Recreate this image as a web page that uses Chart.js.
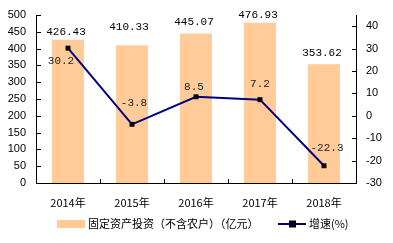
<!DOCTYPE html>
<html><head><meta charset="utf-8">
<script src="https://cdn.jsdelivr.net/npm/chart.js@4/dist/chart.umd.min.js"></script>
<style>html,body{margin:0;padding:0;background:#fff;}#wrap{width:393px;height:243px;position:relative;}</style>
</head><body><div id="wrap"><canvas id="c" width="393" height="243"></canvas></div>
<script>
// ---- data ----
const years = ['2014年', '2015年', '2016年', '2017年', '2018年'];
const investment = [426.43, 410.33, 445.07, 476.93, 353.62];
const growth = [30.2, -3.8, 8.5, 7.2, -22.3];
const investLabels = ['426.43', '410.33', '445.07', '476.93', '353.62'];
const growthLabels = ['30.2', '-3.8', '8.5', '7.2', '-22.3'];
const leftTicks = [0, 50, 100, 150, 200, 250, 300, 350, 400, 450, 500];
const rightTicks = [-30, -20, -10, 0, 10, 20, 30, 40];
const seriesNames = ['固定资产投资（不含农户）（亿元）', '增速(%)'];

// ---- styles ----
const BAR_COLOR = '#FFCC99';
const LINE_COLOR = '#000080';
const LABEL_FONT = '11px "Liberation Mono", monospace';
const CJK_FONT = '11px "Noto Sans CJK SC", sans-serif';
// label offsets (px) relative to bar top / point
const barLabelOffsets = [[-2, -6], [-3, -17], [-2, -10], [-2, -6], [-2, -10]];
const lineLabelOffsets = [[-7, 13], [2, -21], [-2, -10], [0, -16], [3, -18]];

const overlay = {
  id: 'overlay',
  afterDraw(chart) {
    const ctx = chart.ctx;
    const ca = chart.chartArea;
    const y = chart.scales.y, y1 = chart.scales.y1, x = chart.scales.x;
    ctx.save();
    ctx.strokeStyle = '#000';
    ctx.lineWidth = 1;
    // axis lines
    ctx.beginPath();
    ctx.moveTo(Math.round(ca.left) + 0.5, Math.round(ca.top));
    ctx.lineTo(Math.round(ca.left) + 0.5, Math.round(ca.bottom) + 0.5);
    ctx.lineTo(Math.round(ca.right) + 0.5, Math.round(ca.bottom) + 0.5);
    ctx.lineTo(Math.round(ca.right) + 0.5, Math.round(ca.top));
    ctx.stroke();
    // inward tick marks
    ctx.beginPath();
    leftTicks.forEach(v => {
      const py = Math.round(y.getPixelForValue(v)) + 0.5;
      ctx.moveTo(Math.round(ca.left), py); ctx.lineTo(Math.round(ca.left) + 5, py);
    });
    rightTicks.forEach(v => {
      const py = Math.round(y1.getPixelForValue(v)) + 0.5;
      ctx.moveTo(Math.round(ca.right) + 1, py); ctx.lineTo(Math.round(ca.right) - 4, py);
    });
    for (let i = 1; i < years.length; i++) {
      const px = Math.round((x.getPixelForValue(i - 1) + x.getPixelForValue(i)) / 2) + 0.5;
      ctx.moveTo(px, Math.round(ca.bottom)); ctx.lineTo(px, Math.round(ca.bottom) - 4);
    }
    ctx.stroke();

    // bar value labels
    ctx.fillStyle = '#000';
    ctx.font = LABEL_FONT;
    ctx.textAlign = 'center';
    ctx.textBaseline = 'bottom';
    const barMeta = chart.getDatasetMeta(0);
    barMeta.data.forEach((bar, i) => {
      const o = barLabelOffsets[i];
      ctx.fillText(investLabels[i], bar.x + o[0], bar.y + o[1] + 4);
    });
    // line value labels
    ctx.fillStyle = '#222';
    ctx.textBaseline = 'middle';
    const lineMeta = chart.getDatasetMeta(1);
    lineMeta.data.forEach((pt, i) => {
      const o = lineLabelOffsets[i];
      ctx.fillText(growthLabels[i], pt.x + o[0], pt.y + o[1]);
    });

    // legend
    const ly = 224;
    ctx.fillStyle = BAR_COLOR;
    ctx.fillRect(57, 220, 28, 8);
    ctx.fillStyle = '#000';
    ctx.font = CJK_FONT;
    ctx.textAlign = 'left';
    ctx.textBaseline = 'middle';
    ctx.fillText(seriesNames[0], 88, ly);
    ctx.strokeStyle = LINE_COLOR;
    ctx.lineWidth = 2;
    ctx.beginPath(); ctx.moveTo(278, ly); ctx.lineTo(306, ly); ctx.stroke();
    ctx.fillStyle = '#000';
    ctx.fillRect(289, ly - 3.5, 7, 7);
    ctx.fillText(seriesNames[1], 309, ly);
    ctx.restore();
  }
};

new Chart(document.getElementById('c'), {
  type: 'bar',
  data: {
    labels: years,
    datasets: [
      {
        label: seriesNames[0], data: investment, yAxisID: 'y',
        backgroundColor: BAR_COLOR, borderWidth: 0,
        barPercentage: 0.5, categoryPercentage: 1, order: 2
      },
      {
        type: 'line', label: seriesNames[1], data: growth, yAxisID: 'y1',
        borderColor: LINE_COLOR, borderWidth: 2, tension: 0,
        pointStyle: 'rect', pointRadius: 3.5, pointBackgroundColor: '#000',
        pointBorderColor: '#000', pointBorderWidth: 0, order: 1
      }
    ]
  },
  options: {
    responsive: false, animation: false, devicePixelRatio: 1,
    layout: { padding: { top: 15, left: 0, right: 0, bottom: 0 } },
    plugins: { legend: { display: false }, tooltip: { enabled: false } },
    scales: {
      x: {
        grid: { display: false, drawTicks: false },
        border: { display: false },
        ticks: { color: '#000', font: { family: '"Noto Sans CJK SC", sans-serif', size: 11 }, padding: 13, maxRotation: 0 },
        afterFit(s) { s.height = 60; }
      },
      y: {
        position: 'left', min: 0, max: 500,
        afterBuildTicks(s) { s.ticks = leftTicks.map(v => ({ value: v })); },
        grid: { display: false, drawTicks: false },
        border: { display: false },
        ticks: { color: '#000', font: { family: '"Liberation Sans", Arial, sans-serif', size: 11 }, padding: 10 },
        afterFit(s) { s.width = 36; s.paddingTop = 0; s.paddingBottom = 0; }
      },
      y1: {
        position: 'right', min: -30, max: 45,
        afterBuildTicks(s) { s.ticks = rightTicks.map(v => ({ value: v })); },
        grid: { display: false, drawTicks: false },
        border: { display: false },
        ticks: { color: '#000', font: { family: '"Liberation Sans", Arial, sans-serif', size: 11 }, padding: 10 },
        afterFit(s) { s.width = 37; s.paddingTop = 0; s.paddingBottom = 0; }
      }
    }
  },
  plugins: [overlay]
});
</script>
</body></html>
